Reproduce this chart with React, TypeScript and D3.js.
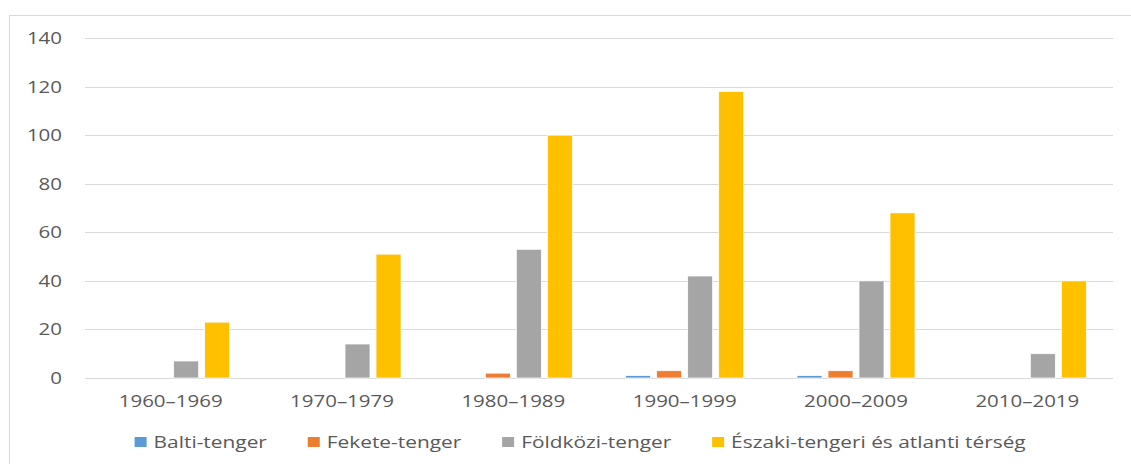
import React, { useEffect, useRef } from "react";
import * as d3 from "d3";

// decades on the x axis
const categories = ["1960–1969", "1970–1979", "1980–1989", "1990–1999", "2000–2009", "2010–2019"];
const seriesNames = ["Balti-tenger", "Fekete-tenger", "Földközi-tenger", "Északi-tengeri és atlanti térség"];
const balti = [0, 0, 0, 1, 1, 0];
const fekete = [0, 0, 2, 3, 3, 0];
const foldkozi = [7, 14, 53, 42, 40, 10];
const eszaki = [23, 51, 100, 118, 68, 40];
const yTicks = [0, 20, 40, 60, 80, 100, 120, 140];
const colors = ["#5b9bd5", "#ed7d31", "#a5a5a5", "#ffc000"];

const W = 1131;
const H = 464;
const FONT = "'Open Sans', sans-serif";
const STRETCH = 1.28; // the reference text is wider than the font

export default function App() {
  const ref = useRef<SVGSVGElement>(null);

  useEffect(() => {
    const series = [balti, fekete, foldkozi, eszaki];
    const svg = d3.select(ref.current);
    svg.selectAll("*").remove();

    // chart border
    svg.append("rect")
      .attr("x", 9.5).attr("y", 15.5)
      .attr("width", W + 10).attr("height", H + 10)
      .attr("fill", "#fff").attr("stroke", "#d9d9d9");

    const x0 = d3.scaleBand<string>().domain(categories).range([85, 1113]);
    const x1 = d3.scaleBand<number>()
      .domain(d3.range(series.length))
      .range([0, x0.bandwidth()])
      .paddingInner(0.194)
      .paddingOuter(0.86);
    const y = d3.scaleLinear().domain([0, 140]).range([378, 38]);

    // gridlines
    svg.append("g").selectAll("line")
      .data(yTicks)
      .join("line")
      .attr("x1", 85).attr("x2", 1113)
      .attr("y1", d => Math.round(y(d)) + 0.5)
      .attr("y2", d => Math.round(y(d)) + 0.5)
      .attr("stroke", "#d9d9d9")
      .attr("stroke-width", 1);

    // y labels
    svg.append("g").selectAll("text")
      .data(yTicks)
      .join("text")
      .attr("transform", d => `translate(62,${y(d) + 6}) scale(${STRETCH},1)`)
      .attr("text-anchor", "end")
      .attr("font-family", FONT)
      .attr("font-size", 16)
      .attr("fill", "#595959")
      .text(d => d);

    // bars
    const groups = svg.append("g").selectAll("g")
      .data(categories)
      .join("g")
      .attr("transform", d => `translate(${x0(d)},0)`);
    groups.selectAll("rect")
      .data((_, i) => series.map((s, k) => ({ k, v: s[i] })))
      .join("rect")
      .attr("x", d => x1(d.k)!)
      .attr("width", x1.bandwidth())
      .attr("y", d => y(d.v))
      .attr("height", d => y(0) - y(d.v))
      .attr("fill", d => colors[d.k])
      .attr("stroke", "#fff")
      .attr("stroke-width", 0.75);

    // x labels
    svg.append("g").selectAll("text")
      .data(categories)
      .join("text")
      .attr("transform", d => `translate(${x0(d)! + x0.bandwidth() / 2},407) scale(${STRETCH},1)`)
      .attr("text-anchor", "middle")
      .attr("font-family", FONT)
      .attr("font-size", 16)
      .attr("fill", "#595959")
      .text(d => d);

    // legend, laid out from measured text widths
    const legendSize = 16.3;
    const ctx = document.createElement("canvas").getContext("2d")!;
    ctx.font = `${legendSize}px ${FONT}`;
    const widths = seriesNames.map(n => ctx.measureText(n).width * STRETCH);
    const sq = 12, gapIn = 7, gapOut = 41;
    const total = d3.sum(widths) + seriesNames.length * (sq + gapIn) + (seriesNames.length - 1) * gapOut;
    let cx = 580 - total / 2;
    const legend = svg.append("g");
    seriesNames.forEach((n, i) => {
      legend.append("rect")
        .attr("x", cx).attr("y", 437)
        .attr("width", sq).attr("height", 10)
        .attr("fill", colors[i]);
      legend.append("text")
        .attr("transform", `translate(${cx + sq + gapIn},447.5) scale(${STRETCH},1)`)
        .attr("font-family", FONT)
        .attr("font-size", legendSize)
        .attr("fill", "#595959")
        .text(n);
      cx += sq + gapIn + widths[i] + gapOut;
    });
  }, []);

  return (
    <svg
      ref={ref}
      width={W}
      height={H}
      style={{ position: "fixed", left: 0, top: 0, background: "#fff" }}
    />
  );
}
